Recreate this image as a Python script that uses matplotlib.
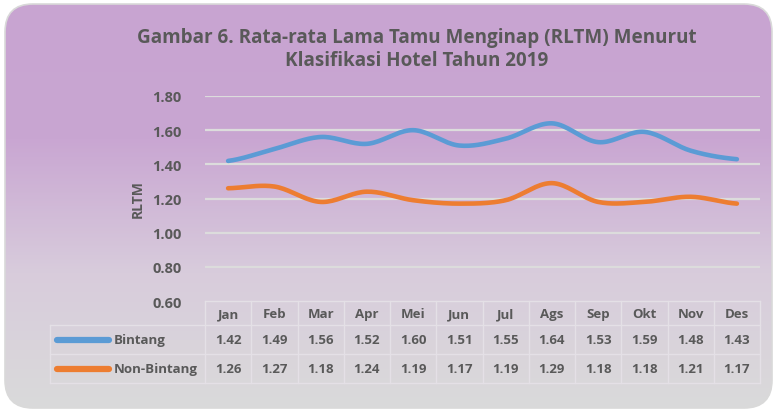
import numpy as np
import matplotlib
matplotlib.use('Agg')
import matplotlib.pyplot as plt
from matplotlib.patches import FancyBboxPatch
from matplotlib.lines import Line2D
from matplotlib.colors import LinearSegmentedColormap

# data
bulan = ['Jan', 'Feb', 'Mar', 'Apr', 'Mei', 'Jun', 'Jul', 'Ags', 'Sep', 'Okt', 'Nov', 'Des']
bintang = [1.42, 1.49, 1.56, 1.52, 1.60, 1.51, 1.55, 1.64, 1.53, 1.59, 1.48, 1.43]
non_bintang = [1.26, 1.27, 1.18, 1.24, 1.19, 1.17, 1.19, 1.29, 1.18, 1.18, 1.21, 1.17]
seri = [('Bintang', bintang, '#5B9BD5'), ('Non-Bintang', non_bintang, '#ED7D31')]
yticks = [0.60, 0.80, 1.00, 1.20, 1.40, 1.60, 1.80]

plt.rcParams['font.family'] = ['Open Sans', 'DejaVu Sans']
abu = '#595959'
W, H = 777, 414


def halus(y, n=20):
    # kurva halus ala Excel (Catmull-Rom)
    y = np.asarray(y, float)
    p = np.concatenate([[y[0]], y, [y[-1]]])
    xs, ys = [], []
    for i in range(len(y) - 1):
        p0, p1, p2, p3 = p[i], p[i + 1], p[i + 2], p[i + 3]
        t = np.linspace(0, 1, n, endpoint=False)
        v = 0.5 * ((2 * p1) + (-p0 + p2) * t + (2 * p0 - 5 * p1 + 4 * p2 - p3) * t ** 2
                   + (-p0 + 3 * p1 - 3 * p2 + p3) * t ** 3)
        xs.append(i + t)
        ys.append(v)
    xs.append([len(y) - 1])
    ys.append([y[-1]])
    return np.concatenate(xs), np.concatenate(ys)


fig = plt.figure(figsize=(W / 100, H / 100), dpi=100)

# latar gradasi dengan sudut membulat
bg = fig.add_axes([0, 0, 1, 1])
bg.set_xlim(0, W)
bg.set_ylim(0, H)
bg.axis('off')
kotak = FancyBboxPatch((5, 5), W - 10, H - 10, boxstyle='round,pad=0,rounding_size=28',
                       facecolor='none', edgecolor='#D9D9D9', lw=1.2, zorder=3)
bg.add_patch(kotak)
cmap = LinearSegmentedColormap.from_list('g', ['#DADADA', '#D8CCDC', '#C9A6D2', '#C8A4D1'])
grad = np.linspace(0, 1, 256).reshape(-1, 1)
img = bg.imshow(grad, extent=[5, W - 5, 5, H - 5], origin='lower', cmap=cmap, aspect='auto')
img.set_clip_path(kotak)

# area plot
x0, x1 = 205, 760
ytop, ybot = 97, 302
ax = fig.add_axes([x0 / W, (H - ybot) / H, (x1 - x0) / W, (ybot - ytop) / H])
ax.patch.set_alpha(0)
ax.set_xlim(-0.5, len(bulan) - 0.5)
ax.set_ylim(0.6, 1.8)
ax.set_yticks(yticks)
ax.set_yticklabels([f'{v:.2f}' for v in yticks], fontsize=10.5, fontweight='bold', color=abu)
ax.set_xticks([])
ax.tick_params(axis='y', length=0, pad=17)
for s in ax.spines.values():
    s.set_visible(False)
for v in yticks[1:]:
    ax.axhline(v, color='#DCDCDC', lw=1.6, zorder=1)
ax.set_ylabel('RLTM', fontsize=10, fontweight='bold', color=abu, labelpad=5)

for nama, val, warna in seri:
    xs, ys = halus(val)
    ax.plot(xs, ys, color=warna, lw=3.3, solid_capstyle='round', zorder=3)

fig.text(417 / W, (H - 50) / H, 'Gambar 6. Rata-rata Lama Tamu Menginap (RLTM) Menurut\nKlasifikasi Hotel Tahun 2019',
         ha='center', va='center', fontsize=13.6, fontweight='bold', color=abu, linespacing=1.2)

# tabel data
garis = '#E4E0E6'
baris = [(302, 326), (326, 355), (355, 384)]
lebar = (x1 - x0) / len(bulan)


def fy(p):
    return (H - p) / H


def fx(p):
    return p / W


# garis tabel
for i in range(len(bulan) + 1):
    xp = x0 + i * lebar
    fig.add_artist(Line2D([fx(xp)] * 2, [fy(302), fy(384)], color=garis, lw=1))
fig.add_artist(Line2D([fx(50)] * 2, [fy(326), fy(384)], color=garis, lw=1))
fig.add_artist(Line2D([fx(x0), fx(x1)], [fy(302)] * 2, color=garis, lw=1))
for yp in (326, 355, 384):
    fig.add_artist(Line2D([fx(50), fx(x1)], [fy(yp)] * 2, color=garis, lw=1))

for i, b in enumerate(bulan):
    cx = x0 + (i + 0.5) * lebar
    fig.text(fx(cx), fy(315), b, ha='center', va='center', fontsize=9.5, fontweight='bold', color=abu)
    for j, (nama, val, warna) in enumerate(seri):
        cy = (baris[j + 1][0] + baris[j + 1][1]) / 2
        fig.text(fx(cx), fy(cy), f'{val[i]:.2f}', ha='center', va='center', fontsize=9.5,
                 fontweight='bold', color=abu)

for j, (nama, val, warna) in enumerate(seri):
    cy = (baris[j + 1][0] + baris[j + 1][1]) / 2
    fig.add_artist(Line2D([fx(57), fx(109)], [fy(cy)] * 2, color=warna, lw=4.5, solid_capstyle='round'))
    fig.text(fx(114), fy(cy), nama, ha='left', va='center', fontsize=9.5, fontweight='bold', color=abu)

fig.savefig('out.png', dpi=100)
